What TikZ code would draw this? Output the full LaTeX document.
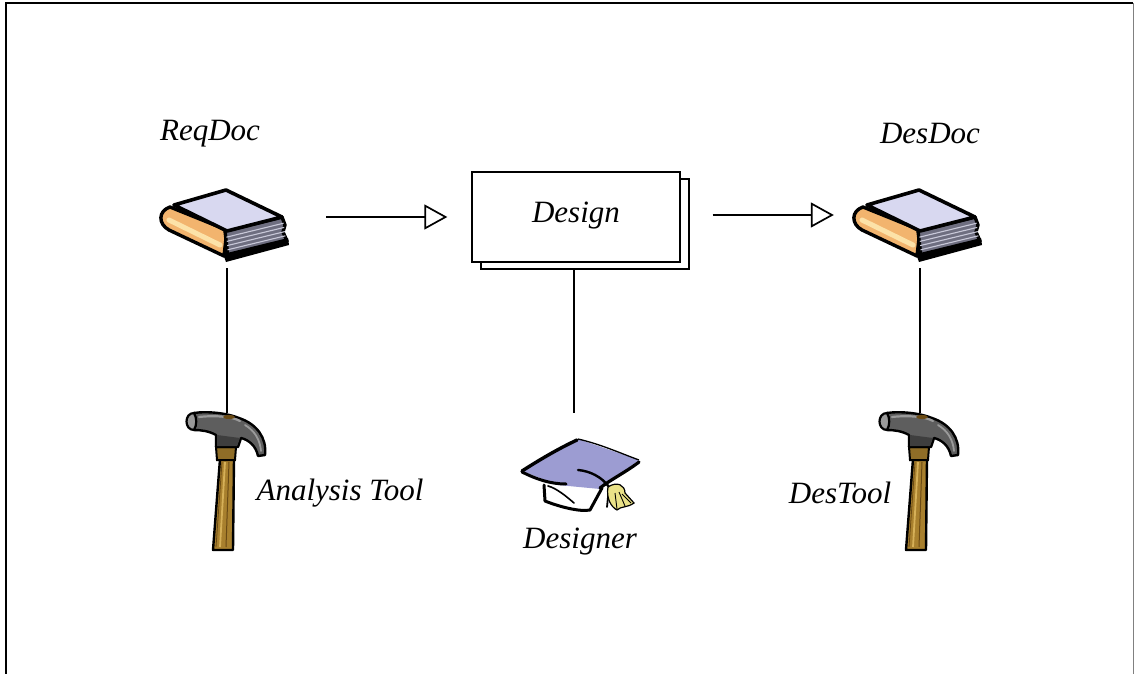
\documentclass[tikz,border=0pt]{standalone}
\usepackage{fontspec}
\setmainfont{Liberation Serif}
\usetikzlibrary{arrows.meta,calc}

\definecolor{cover}{HTML}{D8D8F0}
\definecolor{spine}{HTML}{F2B46E}
\definecolor{spinelight}{HTML}{FCE2A8}
\definecolor{pages}{HTML}{6E6E80}
\definecolor{pagelines}{HTML}{C8C8D8}
\definecolor{steel}{HTML}{5E5E5E}
\definecolor{steeldark}{HTML}{3E3E3E}
\definecolor{steellight}{HTML}{9A9A9A}
\definecolor{wood}{HTML}{A8802E}
\definecolor{woodlight}{HTML}{D6B058}
\definecolor{wooddark}{HTML}{6A4A14}
\definecolor{capfill}{HTML}{9C9CD2}
\definecolor{tassel}{HTML}{EAE288}

\tikzset{
  caption/.style={font=\fontsize{31}{36}\selectfont\itshape, inner sep=0pt},
  link/.style={line width=1.4pt},
  flow/.style={line width=1.4pt, -{Triangle[open, length=23pt, width=25pt, line width=1.7pt]}},
  sheet/.style={draw, fill=white, line width=1.4pt, minimum width=208pt, minimum height=90pt, inner sep=0pt},
  iconbox/.style={inner sep=0pt, minimum width=#1},
  % closed book seen from above
  book/.pic={
    % spine
    \filldraw[fill=spine, draw=black, line width=3.4pt, line join=round]
      (0,4) -- (-3,30) -- (-58,4) .. controls (-69,-2) and (-69,-15) .. (-57,-19) -- cycle;
    \draw[spinelight, line width=5pt, line cap=round] (-58,-6) -- (-7,19);
    % pages
    \filldraw[fill=pages, draw=black, line width=3.4pt, line join=round]
      (-2,5) -- (55,-9) -- (58,-1) -- (56,6) -- (60,15) -- (1,31) -- cycle;
    \foreach \k in {0.2,0.4,0.6,0.8}
      \draw[pagelines, line width=1.1pt] ({-1+2*\k},{7+21*\k}) -- ({56+3*\k},{-7+21*\k});
    % lower cover edge
    \fill[black] (-4,28) -- (61,12) -- (62,19) -- (-1,36) -- cycle;
    % top cover
    \filldraw[fill=cover, draw=black, line width=3.6pt, line join=round]
      (-53,-21) -- (-1,-36) -- (55,-9) -- (0,5) -- cycle;
  },
  % claw hammer, origin at the top of the head
  hammer/.pic={
    % handle
    \filldraw[fill=wood, draw=black, line width=2.4pt, line join=round]
      (-7,46) -- (7,46) -- (6,137) -- (-14,137) -- cycle;
    \draw[woodlight, line width=1.8pt] (-2,49) -- (-7,134);
    \draw[wooddark, line width=1pt] (2,49) -- (-1,134);
    \draw[wooddark, line width=0.8pt] (-5,49) -- (-11,134);
    % collar
    \filldraw[fill=wood!85!black, draw=black, line width=2pt]
      (-11,34) -- (9,34) -- (8,47) -- (-10,47) -- cycle;
    % head
    \filldraw[fill=steel, draw=black, line width=2.4pt, line join=round]
      (-33,0) .. controls (-20,-2) and (0,0) .. (12,5)
      .. controls (30,11) and (40,25) .. (38,42) -- (31,43)
      .. controls (29,33) and (22,27) .. (14,25) -- (11,34) -- (-11,34) -- (-11,22)
      .. controls (-18,18) and (-26,17) .. (-33,17) -- cycle;
    \fill[steeldark] (-10,22) -- (13,25) -- (10,33) -- (-10,33) -- cycle;
    \draw[steellight, line width=2.2pt, line cap=round] (-28,4) .. controls (-10,2) and (6,4) .. (13,8);
    \draw[steellight, line width=1.8pt, line cap=round] (18,12) .. controls (28,18) and (33,27) .. (34,38);
    \fill[wooddark] (2,4) ellipse (6pt and 2pt);
    % face of the head
    \filldraw[fill=steellight, draw=black, line width=2.2pt]
      (-33,0) .. controls (-43,0) and (-43,17) .. (-33,17) .. controls (-30,12) and (-30,5) .. cycle;
  },
  % mortarboard, origin at its centre
  gradcap/.pic={
    \fill[capfill] (-58,-4) -- (-2,-36) -- (59,-15) -- (20,14) -- (-22,10) -- cycle;
    \draw[line width=3.4pt, line cap=round] (-58,-4) .. controls (-36,-18) and (-20,-27) .. (-3,-35);
    \draw[line width=1.3pt] (-2,-36) .. controls (20,-31) and (40,-22) .. (59,-15);
    \draw[line width=3.2pt, line cap=round] (59,-13) .. controls (46,-3) and (30,5) .. (20,13);
    \draw[line width=3pt, line cap=round] (-58,-3) .. controls (-44,4) and (-30,9) .. (-14,9);
    % crown
    \draw[line width=3pt, line cap=round, line join=round]
      (-36,10) -- (-35,26) .. controls (-20,32) and (0,37) .. (10,35) -- (22,13);
    \draw[line width=1.6pt, line cap=round] (-32,11) .. controls (-24,13) and (-14,21) .. (-6,28);
    % cord and tassel
    \draw[line width=2.4pt, line cap=round] (-2,-5) .. controls (10,-4) and (22,2) .. (29,12);
    \draw[line width=1.8pt, line cap=round] (29,12) -- (27,32);
    \filldraw[fill=tassel, draw=black, line width=1.2pt]
      (28,12) .. controls (37,6) and (45,10) .. (45,18) -- (54,28)
      .. controls (47,33) and (41,31) .. (37,35) .. controls (31,32) and (26,23) .. cycle;
    \draw[line width=0.9pt] (35,18) -- (37,34) (39,17) -- (45,31) (42,19) -- (51,28);
  },
}

\begin{document}
\begin{tikzpicture}[x=1pt, y=-1pt]
  \useasboundingbox (0,0) rectangle (1136,674);

  % outer frame, open at the bottom
  \draw[line width=2.2pt] (6,674) -- (6,3) -- (1133,3);
  \draw[gray, line width=1pt] (1133.5,3) -- (1133.5,674);

  % documents
  \node[iconbox=130pt, minimum height=72pt] (reqdoc) at (227,226) {};
  \pic at (reqdoc.center) {book};
  \node[caption] (reqlabel) at (210,134) {ReqDoc};

  \node[iconbox=130pt, minimum height=72pt] (desdoc) at (920,226) {};
  \pic at (desdoc.center) {book};
  \node[caption] (deslabel) at (930,134) {DesDoc};

  % activity
  \node[sheet] (designback) at (585,224) {};
  \node[sheet, font=\fontsize{31}{36}\selectfont\itshape] (design) at (576,217) {\raisebox{9pt}{Design}};

  % tools and role
  \node[iconbox=80pt, minimum height=140pt, anchor=north] (anatool) at (227,413) {};
  \pic at (anatool.north) {hammer};
  \node[caption] (analabel) at (340,493) {Analysis Tool};

  \node[iconbox=80pt, minimum height=140pt, anchor=north] (destool) at (920,413) {};
  \pic at (destool.north) {hammer};
  \node[caption] (destoollabel) at (840,493) {DesTool};

  \node[iconbox=120pt, minimum height=110pt, anchor=north] (designer) at (576,413) {};
  \pic at (580,475) {gradcap};
  \node[caption] (designerlabel) at (580,542) {Designer};

  % flows
  \draw[flow] ($(reqdoc.east |- design.center)+(34,0)$) -- ($(design.west)+(-24,0)$);
  \draw[flow] ($(designback.east |- design.center)+(23,-2)$) -- ($(desdoc.west |- design.center)+(-21,-2)$);

  % associations
  \draw[link] ($(reqdoc.south)+(0,6)$) -- (anatool.north);
  \draw[link] ($(design.south |- designback.south)+(-2,0)$) -- ($(designer.north)+(-2,0)$);
  \draw[link] ($(desdoc.south)+(0,6)$) -- (destool.north);
\end{tikzpicture}
\end{document}
